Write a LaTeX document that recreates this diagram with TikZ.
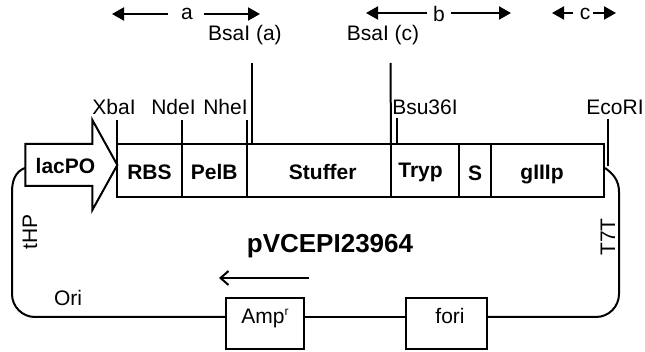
\documentclass[tikz,border=0pt]{standalone}
\usepackage{fontspec}
\setmainfont{Liberation Sans}
\usetikzlibrary{arrows.meta,shapes.arrows}

\tikzstyle{wire} = [line width=2pt]
\tikzstyle{site} = [font=\fontsize{21}{23}\selectfont, inner sep=0pt]
\tikzstyle{segment} = [draw, line width=2pt, font=\fontsize{21}{23}\selectfont\bfseries, text height=36pt, text depth=17pt, inner sep=0pt, outer sep=0pt]
\tikzstyle{marker} = [draw, line width=2pt, font=\fontsize{21}{23}\selectfont, inner sep=0pt, outer sep=0pt, text height=26pt, text depth=25pt, anchor=base]
\tikzstyle{span} = [line width=2pt, -{Triangle[length=12pt,width=13pt]}]

\begin{document}
\begin{tikzpicture}[x=1pt,y=-1pt]
\useasboundingbox (0,0) rectangle (645,352);
%begin promoter
\node[draw, line width=2pt, single arrow, single arrow head extend=24pt, single arrow tip angle=122, minimum width=88pt, minimum height=92pt, inner sep=0pt, outer sep=0pt, text height=20pt, text depth=20pt, font=\fontsize{21}{23}\selectfont\bfseries] (lacPO) at (65.5,165) {\raisebox{-9pt}{lacPO}};
%end promoter
%begin cassette
\node[segment, minimum width=65pt] (RBS) at (149.5,170.5) {RBS};
\node[segment, minimum width=64.5pt] (PelB) at (214.25,170.5) {PelB};
\node[segment, minimum width=144.5pt] (Stuffer) at (318.75,170.5) {\hspace*{8pt}Stuffer};
\node[segment, minimum width=68pt, text height=34pt, text depth=19pt] (Tryp) at (425,170.5) {\hspace*{-9pt}Tryp};
\node[segment, minimum width=32pt, text height=37pt, text depth=16pt] (S) at (475,170.5) {S};
\node[segment, minimum width=113pt] (gIIIp) at (547.5,170.5) {\hspace*{-11pt}gIIIp};
%end cassette
%begin sites
\node[site] (XbaI) at (114,107) {XbaI};
\node[site] (NdeI) at (173.5,107) {NdeI};
\node[site] (NheI) at (225.5,107) {NheI};
\node[site] (BsaIa) at (245,35) {BsaI (a)};
\node[site] (BsaIc) at (383,35) {BsaI (c)};
\node[site] (Bsu36I) at (425,107) {Bsu36I};
\node[site] (EcoRI) at (615,107) {EcoRI};
\coordinate (XbaItop) at (117,120);
\coordinate (NdeItop) at (182,120);
\coordinate (NheItop) at (246.5,120);
\coordinate (BsaIatop) at (251.5,63);
\coordinate (BsaIctop) at (390.5,63);
\coordinate (Bsu36Itop) at (397,118);
\coordinate (EcoRItop) at (607.5,119);
\coordinate (EcoRIend) at (607.5,166);
\draw[wire] (XbaItop) -- (RBS.north west);
\draw[wire] (NdeItop) -- (PelB.north west);
\draw[wire] (NheItop) -- (Stuffer.north west);
\draw[wire] (BsaIatop) -- (BsaIatop |- Stuffer.north);
\draw[wire] (BsaIctop) -- (Tryp.north west);
\draw[wire] (Bsu36Itop) -- (Bsu36Itop |- Tryp.north);
\draw[wire] (EcoRItop) -- (EcoRIend);
%end sites
%begin spans
\node[site] (a) at (187,14) {a};
\node[site] (b) at (439,14) {b};
\node[site] (c) at (585,14) {c};
\coordinate (aleft) at (112,14);
\coordinate (aright) at (260,14);
\coordinate (bleft) at (366,13);
\coordinate (bright) at (511,13);
\coordinate (cleft) at (552,13);
\coordinate (cright) at (616,13);
\draw[span] (168,14) -- (aleft);
\draw[span] (204,14) -- (aright);
\draw[span] (427,13) -- (bleft);
\draw[span] (451,13) -- (bright);
\draw[span] (573,13) -- (cleft);
\draw[span] (593,13) -- (cright);
%end spans
%begin backbone
\node[marker] (Amp) at (265,324) {\makebox[78pt]{Amp\raisebox{8pt}{\fontsize{12}{12}\selectfont r}}};
\node[marker] (fori) at (446.5,324) {\makebox[81pt]{\hspace*{7pt}fori}};
\coordinate (loopstart) at (25,168);
\coordinate (loopleft) at (12,192);
\coordinate (cornerleft) at (12,317);
\coordinate (loopend) at (605,168);
\coordinate (loopright) at (619,192);
\coordinate (cornerright) at (619,317);
\draw[wire, rounded corners=23pt] (Amp.west |- cornerleft) -- (cornerleft) -- (loopleft);
\draw[wire] (loopleft) to[out=90,in=200] (loopstart);
\draw[wire] (Amp.east |- cornerleft) -- (fori.west |- cornerleft);
\draw[wire, rounded corners=23pt] (fori.east |- cornerright) -- (cornerright) -- (loopright);
\draw[wire] (loopright) to[out=90,in=-35] (loopend);
%end backbone
%begin labels
\node[site, rotate=90] (tHP) at (30,232) {tHP};
\node[site, rotate=90] (T7T) at (608,237) {T7T};
\node[site] (Ori) at (68,298) {Ori};
\node[site, font=\fontsize{26}{28}\selectfont\bfseries] (title) at (330,246) {pVCEPI23964};
\coordinate (dirstart) at (309,278);
\coordinate (dirend) at (219,278);
\draw[wire, -{Straight Barb[length=8pt,width=14pt]}] (dirstart) -- (dirend);
%end labels
\end{tikzpicture}
\end{document}
